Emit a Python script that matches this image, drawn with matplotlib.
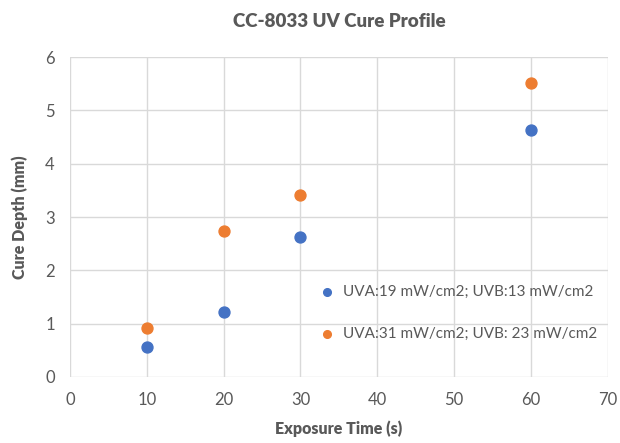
import matplotlib.pyplot as plt

# Data
exposure_time = [10, 20, 30, 60]
depth_low = [0.57, 1.22, 2.63, 4.63]
depth_high = [0.92, 2.73, 3.41, 5.52]
label_low = "UVA:19 mW/cm2; UVB:13 mW/cm2"
label_high = "UVA:31 mW/cm2; UVB: 23 mW/cm2"

plt.rcParams['font.family'] = ['Lato', 'DejaVu Sans']

fig = plt.figure(figsize=(6.2, 4.43), dpi=100)
ax = fig.add_axes([0.113, 0.149, 0.867, 0.722])

ax.scatter(exposure_time, depth_low, s=62, color='#4472C4', label=label_low, zorder=3)
ax.scatter(exposure_time, depth_high, s=62, color='#ED7D31', label=label_high, zorder=3)

ax.set_xlim(0, 70)
ax.set_ylim(0, 6)
ax.set_xticks(range(0, 71, 10))
ax.set_yticks(range(0, 7))
ax.grid(True, color='#D9D9D9', linewidth=1)
ax.set_axisbelow(True)
for s in ax.spines.values():
    s.set_visible(False)
ax.tick_params(length=0, labelsize=12, labelcolor='#595959', pad=11)

ax.set_title("CC-8033 UV Cure Profile", fontsize=13.5, fontweight='heavy', color='#595959', pad=22)
ax.set_xlabel("Exposure Time (s)", fontsize=11.5, fontweight='heavy', color='#595959', labelpad=9)
ax.set_ylabel("Cure Depth (mm)", fontsize=11.5, fontweight='heavy', color='#595959', labelpad=12)

ax.legend(loc='center right', bbox_to_anchor=(1.0, 0.2), frameon=False, fontsize=11,
          labelcolor='#595959', handletextpad=0.05, markerscale=0.7, labelspacing=1.85,
          borderaxespad=0.3)

fig.savefig("out.png", dpi=100)
